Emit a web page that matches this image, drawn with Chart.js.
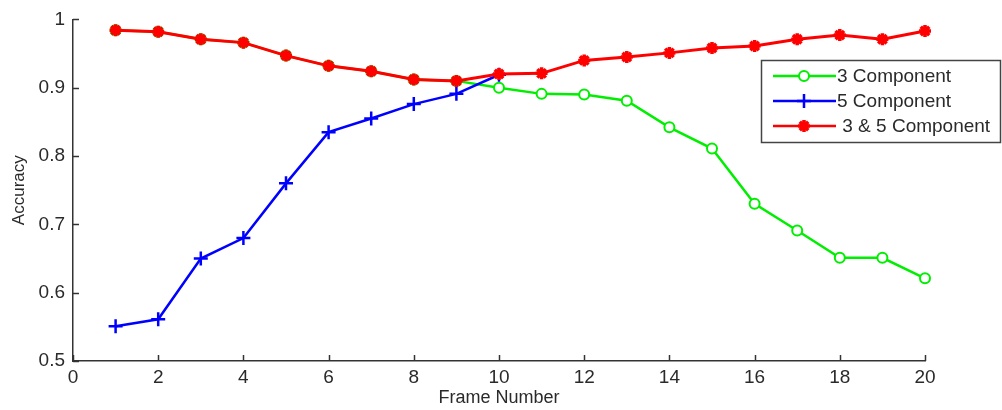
<!DOCTYPE html>
<html>
<head>
<meta charset="utf-8">
<script src="https://cdn.jsdelivr.net/npm/chart.js@4.4.1/dist/chart.umd.min.js"></script>
<style>
  html, body { margin: 0; padding: 0; background: #fff; }
  #wrap { width: 1002px; height: 410px; position: relative; }
</style>
</head>
<body>
<div id="wrap"><canvas id="chart"></canvas></div>
<script>
// values
const frames = [1, 2, 3, 4, 5, 6, 7, 8, 9, 10, 11, 12, 13, 14, 15, 16, 17, 18, 19, 20];
const threeComp = [0.984, 0.982, 0.971, 0.966, 0.947, 0.932, 0.924, 0.912, 0.910, 0.900,
  0.891, 0.890, 0.881, 0.842, 0.811, 0.730, 0.691, 0.651, 0.651, 0.621];
const fiveComp = [0.551, 0.561, 0.650, 0.680, 0.760, 0.835, 0.855, 0.876, 0.891, 0.919];
const bothComp = [0.984, 0.982, 0.971, 0.966, 0.947, 0.932, 0.924, 0.912, 0.910, 0.920,
  0.921, 0.940, 0.945, 0.951, 0.958, 0.961, 0.971, 0.977, 0.971, 0.983];
const seriesNames = ["3 Component", "5 Component", " 3 & 5 Component"];
const xTicks = [0, 2, 4, 6, 8, 10, 12, 14, 16, 18, 20];
const yTicks = [0.5, 0.6, 0.7, 0.8, 0.9, 1];

const toPoints = (vals) => vals.map((v, i) => ({ x: frames[i], y: v }));

const axisColor = "#333";
const textColor = "#2a2a2a";
const fontFamily = "'Liberation Sans', Arial, sans-serif";

// MATLAB-style inward tick marks
const inwardTicks = {
  id: "inwardTicks",
  afterDraw(chart) {
    const { ctx, chartArea, scales } = chart;
    ctx.save();
    ctx.strokeStyle = axisColor;
    ctx.lineWidth = 1.5;
    xTicks.forEach((t) => {
      const px = Math.round(scales.x.getPixelForValue(t)) + 0.5;
      ctx.beginPath();
      ctx.moveTo(px, chartArea.bottom);
      ctx.lineTo(px, chartArea.bottom - 6);
      ctx.stroke();
    });
    yTicks.forEach((t) => {
      const py = Math.round(scales.y.getPixelForValue(t)) + 0.5;
      ctx.beginPath();
      ctx.moveTo(chartArea.left, py);
      ctx.lineTo(chartArea.left + 6, py);
      ctx.stroke();
    });
    ctx.restore();
  },
};

// legend box inside the plot, as in the reference
const boxLegend = {
  id: "boxLegend",
  afterDraw(chart) {
    const { ctx } = chart;
    const datasets = chart.data.datasets;
    const bx = 761, by = 60, bw = 239, bh = 82;
    ctx.save();
    ctx.fillStyle = "#fff";
    ctx.fillRect(bx, by, bw, bh);
    ctx.strokeStyle = "#444";
    ctx.lineWidth = 1.5;
    ctx.strokeRect(bx + 0.5, by + 0.5, bw, bh);
    const rows = [76, 101, 126];
    datasets.forEach((ds, r) => {
      const y = rows[r];
      ctx.strokeStyle = ds.borderColor;
      ctx.lineWidth = 2.5;
      ctx.beginPath();
      ctx.moveTo(773, y);
      ctx.lineTo(836, y);
      ctx.stroke();
      ctx.save();
      ctx.strokeStyle = ds.borderColor;
      ctx.fillStyle = ds.backgroundColor;
      ctx.lineWidth = ds.pointBorderWidth;
      Chart.helpers.drawPoint(ctx, {
        pointStyle: ds.pointStyle,
        radius: ds.pointRadius,
        borderWidth: ds.pointBorderWidth,
        rotation: 0,
      }, 804, y);
      ctx.restore();
      ctx.fillStyle = textColor;
      ctx.font = "19px " + fontFamily;
      ctx.textBaseline = "middle";
      ctx.textAlign = "left";
      ctx.fillText(ds.label, 837, y + 1);
    });
    ctx.restore();
  },
};

new Chart(document.getElementById("chart"), {
  type: "line",
  data: {
    datasets: [
      {
        label: seriesNames[0],
        data: toPoints(threeComp),
        borderColor: "#00ee00",
        backgroundColor: "#ffffff",
        pointStyle: "circle",
        pointRadius: 5,
        pointBorderWidth: 2,
        borderWidth: 2.5,
        clip: false,
        order: 3,
      },
      {
        label: seriesNames[1],
        data: toPoints(fiveComp),
        borderColor: "#0000ff",
        backgroundColor: "#0000ff",
        pointStyle: "cross",
        pointRadius: 7,
        pointBorderWidth: 2.5,
        borderWidth: 2.5,
        clip: false,
        order: 2,
      },
      {
        label: seriesNames[2],
        data: toPoints(bothComp),
        borderColor: "#ff0000",
        backgroundColor: "#ff0000",
        pointStyle: "star",
        pointRadius: 6,
        pointBorderWidth: 3.5,
        borderWidth: 3,
        clip: false,
        order: 1,
      },
    ],
  },
  options: {
    responsive: true,
    maintainAspectRatio: false,
    animation: false,
    layout: { padding: { top: 17, right: 77, left: 0, bottom: 0 } },
    elements: { line: { tension: 0 } },
    plugins: {
      legend: { display: false },
      tooltip: { enabled: false },
    },
    scales: {
      x: {
        type: "linear",
        min: 0,
        max: 20,
        afterBuildTicks: (scale) => { scale.ticks = xTicks.map((v) => ({ value: v })); },
        afterFit: (scale) => { scale.height = 49; },
        grid: { display: false, drawTicks: false },
        border: { display: true, color: axisColor, width: 1.5 },
        ticks: {
          color: textColor,
          font: { family: fontFamily, size: 19 },
          padding: 5,
          maxRotation: 0,
          callback: (v) => String(v),
        },
        title: {
          display: true,
          text: "Frame Number",
          color: textColor,
          font: { family: fontFamily, size: 18 },
          padding: { top: 0, bottom: 1 },
        },
      },
      y: {
        min: 0.5,
        max: 1,
        afterBuildTicks: (scale) => { scale.ticks = yTicks.map((v) => ({ value: v })); },
        afterFit: (scale) => { scale.width = 73; },
        grid: { display: false, drawTicks: false },
        border: { display: true, color: axisColor, width: 1.5 },
        ticks: {
          color: textColor,
          font: { family: fontFamily, size: 19 },
          padding: 8,
          callback: (v) => String(+v.toFixed(1)),
        },
        title: {
          display: true,
          text: "Accuracy",
          color: textColor,
          font: { family: fontFamily, size: 17 },
          padding: { top: 9, bottom: 0 },
        },
      },
    },
  },
  plugins: [inwardTicks, boxLegend],
});
</script>
</body>
</html>
